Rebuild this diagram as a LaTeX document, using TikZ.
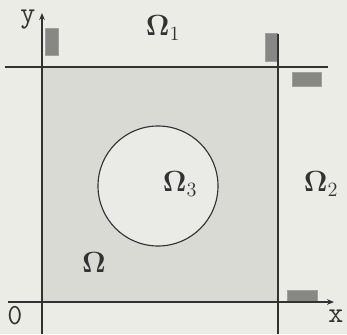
\documentclass[tikz,border=0pt]{standalone}
\usepackage{amsmath,amssymb}
\usepackage{bm}
\usepackage{tikz}
\usetikzlibrary{arrows.meta}
\definecolor{paper}{RGB}{236,236,231}
\definecolor{domgrey}{RGB}{218,218,213}
\definecolor{holegrey}{RGB}{234,234,230}
\definecolor{patchgrey}{RGB}{135,135,132}
\definecolor{inkgrey}{RGB}{50,50,50}

\begin{document}
\begin{tikzpicture}[x=0.025cm, y=-0.025cm,
    axis/.style={draw=inkgrey, line width=1pt},
    edge/.style={draw=inkgrey, line width=1pt},
    patch/.style={fill=patchgrey, draw=patchgrey!80, line width=0.4pt},
    region/.style={font=\huge, text=inkgrey},
    axlabel/.style={font=\huge\ttfamily, text=inkgrey}
]
    \fill[paper] (0,0) rectangle (347,334);
    \useasboundingbox (0,0) rectangle (347,334);
    % corners of the domain
    \coordinate (sw) at (42,302);
    \coordinate (ne) at (278,67);
    \fill[domgrey] (sw) rectangle (ne);
    \filldraw[fill=holegrey, draw=inkgrey, line width=0.8pt] (158,186) circle (60);
    % boundary patches
    \fill[patch] (45,28) rectangle (58,55);
    \fill[patch] (265,33) rectangle (277,61);
    \fill[patch] (292,72) rectangle (321,86);
    \fill[patch] (287,290) rectangle (317,301);
    % axes and boundary lines
    \coordinate (ytop) at (42,13);
    \coordinate (xend) at (334,302);
    \draw[axis, -{Stealth[length=5pt,width=4pt]}] (42,334) -- (ytop);
    \draw[axis, -{Stealth[length=5pt,width=4pt]}] (8,302) -- (xend);
    \draw[edge] (5,67) -- (328,67);
    \draw[edge] (278,34) -- (278,334);
    % labels
    \node[axlabel] (ylab) at (28,20) {y};
    \node[axlabel] (xlab) at (336,316) {x};
    \node[axlabel] (olab) at (15,316) {0};
    \node[region] (om1) at (163,28) {$\bm{\Omega}_1$};
    \node[region] (om2) at (321,184) {$\bm{\Omega}_2$};
    \node[region] (om3) at (180,184) {$\bm{\Omega}_3$};
    \node[region] (om) at (94,262) {$\bm{\Omega}$};
\end{tikzpicture}
\end{document}
